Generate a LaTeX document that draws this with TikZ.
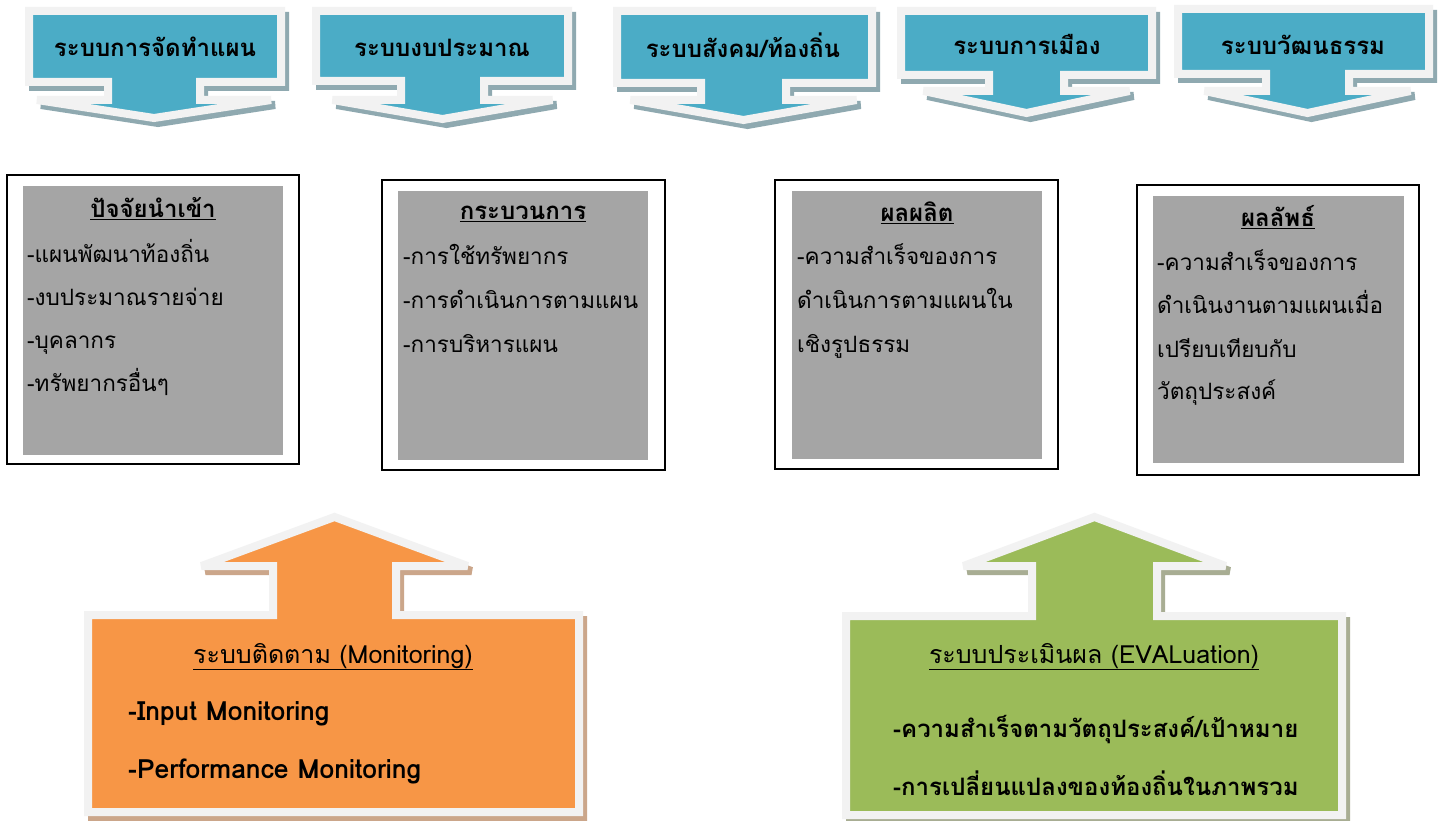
\documentclass[tikz,border=0pt]{standalone}
\usepackage{fontspec}
\newfontfamily\thai[Script=Thai]{Loma}
\definecolor{tealc}{HTML}{4BACC6}
\definecolor{tealsh}{HTML}{8FA9B0}
\definecolor{orangec}{HTML}{F79646}
\definecolor{orangesh}{HTML}{CBA68A}
\definecolor{greenc}{HTML}{9BBB59}
\definecolor{greensh}{HTML}{A8AD93}
\definecolor{bordc}{HTML}{F2F2F2}
\definecolor{boxgray}{HTML}{A5A5A5}
\newcommand\dpath[9]{(#1,#3) -- (#2,#3) -- (#2,#4) -- (#6,#4) -- (#6,#7) -- ({(#5+#6)/2+#8},#7) -- ({(#5+#6)/2},#9) -- ({(#5+#6)/2-#8},#7) -- (#5,#7) -- (#5,#4) -- (#1,#4) -- cycle}
\newcommand\upath[9]{(#1,#3) -- (#5,#3) -- (#5,#7) -- ({(#5+#6)/2-#8},#7) -- ({(#5+#6)/2},#9) -- ({(#5+#6)/2+#8},#7) -- (#6,#7) -- (#6,#3) -- (#2,#3) -- (#2,#4) -- (#1,#4) -- cycle}
\newcommand\dcall[9]{%
  \draw[callout, draw=tealsh, fill=tealsh, shift={(4,5)}] \dpath{#1}{#2}{#3}{#4}{#5}{#6}{#7}{#8}{#9};
  \draw[callout, fill=tealc] \dpath{#1}{#2}{#3}{#4}{#5}{#6}{#7}{#8}{#9};}
\tikzset{
  callout/.style={draw=bordc, line width=8pt, line join=miter, miter limit=3},
  toptxt/.style={font=\thai\bfseries\fontsize{24}{28}\selectfont, anchor=base, inner sep=0pt},
  outerbox/.style={draw=black, line width=2pt, fill=white},
  innerbox/.style={fill=boxgray},
  boxtitle/.style={font=\thai\bfseries\fontsize{24}{28}\selectfont, anchor=base, inner sep=0pt},
  boxline/.style={font=\thai\fontsize{22.5}{28}\selectfont, anchor=base west, inner sep=0pt},
  bottitle/.style={font=\thai\fontsize{25}{28}\selectfont, anchor=base, inner sep=0pt},
  botline/.style={font=\thai\bfseries\fontsize{24}{28}\selectfont, anchor=base west, inner sep=0pt},
  botlatin/.style={font=\thai\bfseries\fontsize{26.5}{28}\selectfont, anchor=base west, inner sep=0pt},
}
\begin{document}
\begin{tikzpicture}[x=1pt,y=-1pt]
\useasboundingbox[fill=white] (0,0) rectangle (1443,821);
% top arrows
\dcall{29}{281}{11}{82}{108}{200}{100}{117}{118}
\dcall{316}{568}{11}{81}{401}{484}{100}{110}{119}
\dcall{617}{872}{11}{83}{701}{786}{100}{113}{120}
\dcall{901}{1152}{11}{75}{989}{1064}{91}{103}{113}
\dcall{1178}{1429}{9}{74}{1266}{1349}{91}{103}{113}
\node[toptxt] (t1) at (155,57) {ระบบการจัดทำแผน};
\node[toptxt] (t2) at (442,57) {ระบบงบประมาณ};
\node[toptxt] (t3) at (743,58) {ระบบสังคม/ท้องถิ่น};
\node[toptxt] (t4) at (1027,55) {ระบบการเมือง};
\node[toptxt] (t5) at (1303,55) {ระบบวัฒนธรรม};
% boxes
\draw[outerbox] (7,175) rectangle (299,464);
\fill[innerbox] (23,186) rectangle (283,455);
\draw[outerbox] (382,180) rectangle (665,470);
\fill[innerbox] (398,191) rectangle (648,460);
\draw[outerbox] (775,180) rectangle (1058,469);
\fill[innerbox] (792,191) rectangle (1042,459);
\draw[outerbox] (1137,185) rectangle (1419,475);
\fill[innerbox] (1153,196) rectangle (1404,463);
\node[boxtitle] (b1t) at (153,218) {\underline{ปัจจัยนำเข้า}};
\node[boxline] (b1a) at (27,262) {-แผนพัฒนาท้องถิ่น};
\node[boxline] (b1b) at (27,305) {-งบประมาณรายจ่าย};
\node[boxline] (b1c) at (27,348) {-บุคลากร};
\node[boxline] (b1d) at (27,391) {-ทรัพยากรอื่นๆ};
\node[boxtitle] (b2t) at (523,220) {\underline{กระบวนการ}};
\node[boxline] (b2a) at (403,265) {-การใช้ทรัพยากร};
\node[boxline] (b2b) at (403,308) {-การดำเนินการตามแผน};
\node[boxline] (b2c) at (403,352) {-การบริหารแผน};
\node[boxtitle] (b3t) at (917,222) {\underline{ผลผลิต}};
\node[boxline] (b3a) at (797,265) {-ความสำเร็จของการ};
\node[boxline] (b3b) at (797,308) {ดำเนินการตามแผนใน};
\node[boxline] (b3c) at (797,352) {เชิงรูปธรรม};
\node[boxtitle] (b4t) at (1278,227) {\underline{ผลลัพธ์}};
\node[boxline] (b4a) at (1157,270) {-ความสำเร็จของการ};
\node[boxline] (b4b) at (1157,313) {ดำเนินงานตามแผนเมื่อ};
\node[boxline] (b4c) at (1157,357) {เปรียบเทียบกับ};
\node[boxline] (b4d) at (1157,399) {วัตถุประสงค์};
% bottom callouts
\draw[callout, draw=orangesh, fill=orangesh, shift={(4,5)}] \upath{88}{579}{615}{812}{273}{396}{566}{133}{517};
\draw[callout, fill=orangec] \upath{88}{579}{615}{812}{273}{396}{566}{133}{517};
\draw[callout, draw=greensh, fill=greensh, shift={(4,5)}] \upath{846}{1342}{616}{815}{1032}{1157}{566}{131}{517};
\draw[callout, fill=greenc] \upath{846}{1342}{616}{815}{1032}{1157}{566}{131}{517};
\node[bottitle] (m0) at (333,663) {\underline{ระบบติดตาม (Monitoring)}};
\node[botlatin] (m1) at (128,720) {-Input Monitoring};
\node[botlatin] (m2) at (128,778) {-Performance Monitoring};
\node[bottitle] (e0) at (1094,663) {\underline{ระบบประเมินผล (EVALuation)}};
\node[botline] (e1) at (893,737) {-ความสำเร็จตามวัตถุประสงค์/เป้าหมาย};
\node[botline] (e2) at (893,795) {-การเปลี่ยนแปลงของท้องถิ่นในภาพรวม};
\end{tikzpicture}
\end{document}
